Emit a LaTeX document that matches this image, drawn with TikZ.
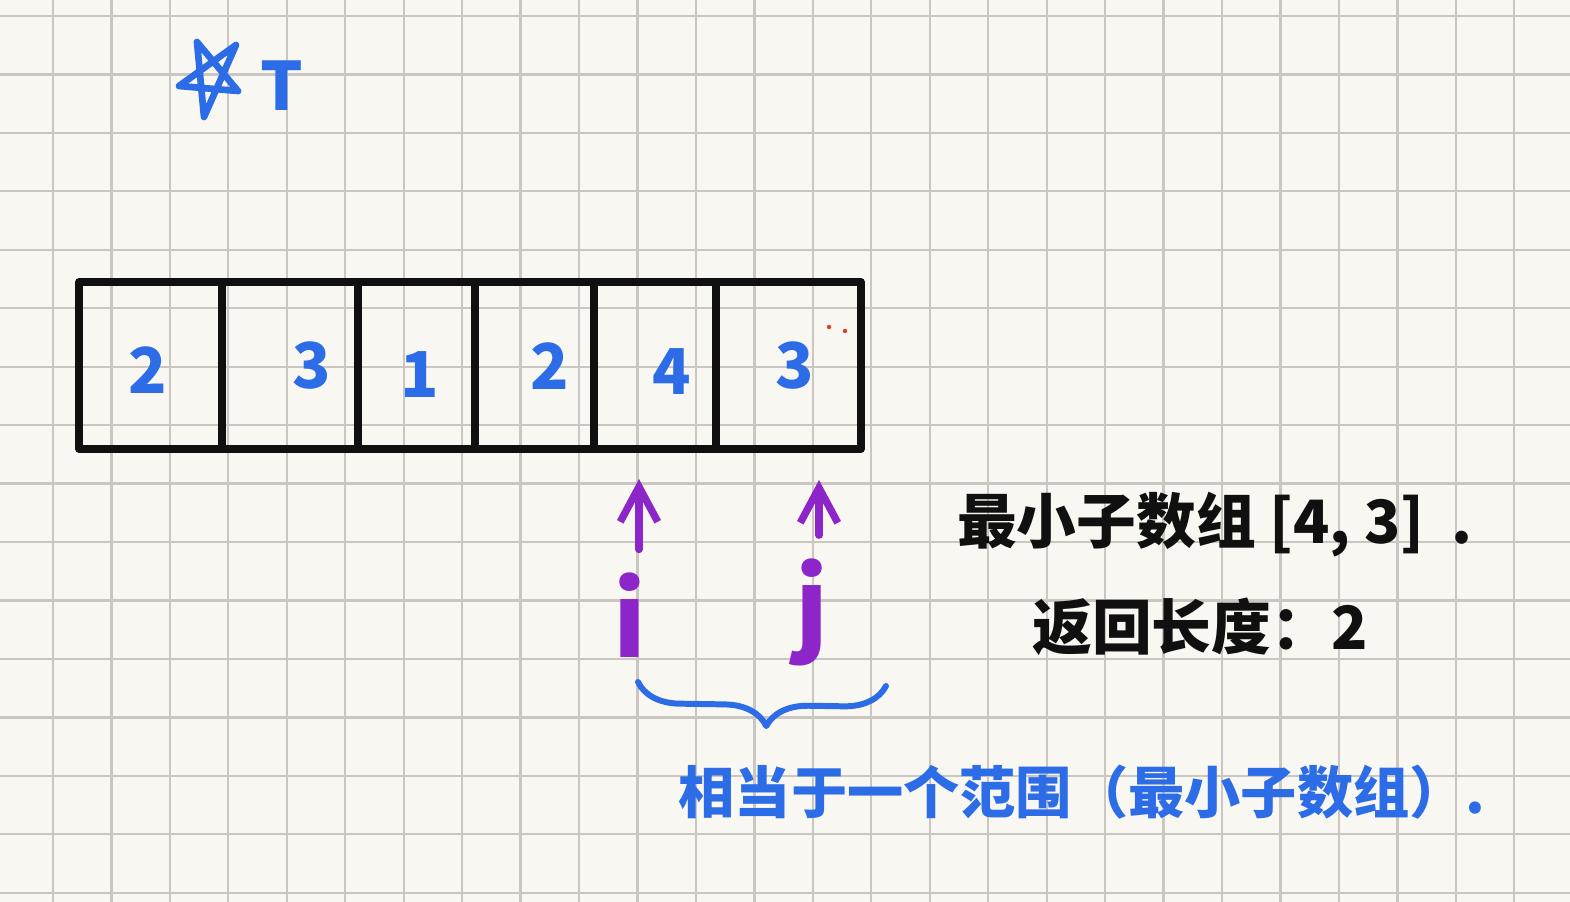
\documentclass[tikz,border=0pt]{standalone}
\usepackage{fontspec}
\newfontfamily\hand{Noto Sans CJK SC}
\definecolor{paper}{RGB}{249,247,242}
\definecolor{gridgray}{RGB}{202,199,194}
\definecolor{ink}{RGB}{16,16,16}
\definecolor{pen}{RGB}{44,108,230}
\definecolor{pointer}{RGB}{140,38,200}
\definecolor{smudge}{RGB}{225,60,40}
\usetikzlibrary{arrows.meta,positioning,decorations.pathreplacing}

\begin{document}
\begin{tikzpicture}[x=0.02cm, y=-0.02cm, line cap=round, line join=round,
    gridline/.style={gridgray, line width=1.3pt},
    cellbox/.style={draw=ink, line width=4.4pt, inner sep=0pt, outer sep=0pt, minimum height=3.34cm},
    digit/.style={pen, font=\hand\bfseries\fontsize{36}{40}\selectfont},
    note/.style={font=\hand\bfseries\fontsize{34}{38}\selectfont},
    idx/.style={pointer, font=\hand\bfseries\fontsize{58}{60}\selectfont},
    ptr/.style={pointer, line width=4.2pt, shorten <=0.34cm, -{Straight Barb[length=0.7cm, width=0.75cm]}}]
  \fill[paper] (0,0) rectangle (1570,902);
  \useasboundingbox (0,0) rectangle (1570,902);
  \foreach \gx in {0,...,25} \draw[gridline] ({53+58.45*\gx},0) -- ++(0,902);
  \foreach \gy in {0,...,15} \draw[gridline] (0,{16+58.45*\gy}) -- ++(1570,0);
  \draw[pen, line width=3.8pt] (197,42) -- (204,117) -- (236,45) -- (179,86) -- (238,91) -- cycle;
  \node[pen, font=\hand\bfseries\fontsize{38}{40}\selectfont] (tee) at (282,86) {T};
  \node[cellbox, minimum width=2.86cm] (c1) at (150.5,365.5) {};
  \node[cellbox, minimum width=2.72cm] (c2) at (290,365.5) {};
  \node[cellbox, minimum width=2.34cm] (c3) at (416.5,365.5) {};
  \node[cellbox, minimum width=2.38cm] (c4) at (534.5,365.5) {};
  \node[cellbox, minimum width=2.44cm] (c5) at (655,365.5) {};
  \node[cellbox, minimum width=2.90cm] (c6) at (788.5,365.5) {};
  \node[digit] (d1) at (148,370) {2};
  \node[digit] (d2) at (312,366) {3};
  \node[digit] (d3) at (420,375) {1};
  \node[digit] (d4) at (550,366) {2};
  \node[digit] (d5) at (672,372) {4};
  \node[digit] (d6) at (795,366) {3};
  \fill[smudge] (829,327) circle (2.2);
  \fill[smudge] (845,331) circle (2.2);
  \node[idx] (i) at (630,615) {i};
  \node[idx] (j) at (812,612) {j};
  \coordinate (ti) at (639,479);
  \coordinate (tj) at (819,480);
  \draw[ptr] (i.north -| ti) -- (ti);
  \draw[ptr] (j.north -| tj) -- (tj);
  \coordinate (bl) at (638,682);
  \coordinate (br) at (886,686);
  \draw[pen, line width=3.4pt, decorate, decoration={brace, mirror, amplitude=0.84cm, aspect=0.52}] (bl) -- (br);
  \node[note, ink] (res) at (1215,525) {最小子数组 [4, 3]\ \ .};
  \node[note, ink] (len) at (1200,627) {返回长度：2};
  \node[note, pen, font=\hand\bfseries\fontsize{32}{36}\selectfont] (range) at (1082,792) {相当于一个范围（最小子数组）.};
\end{tikzpicture}
\end{document}
